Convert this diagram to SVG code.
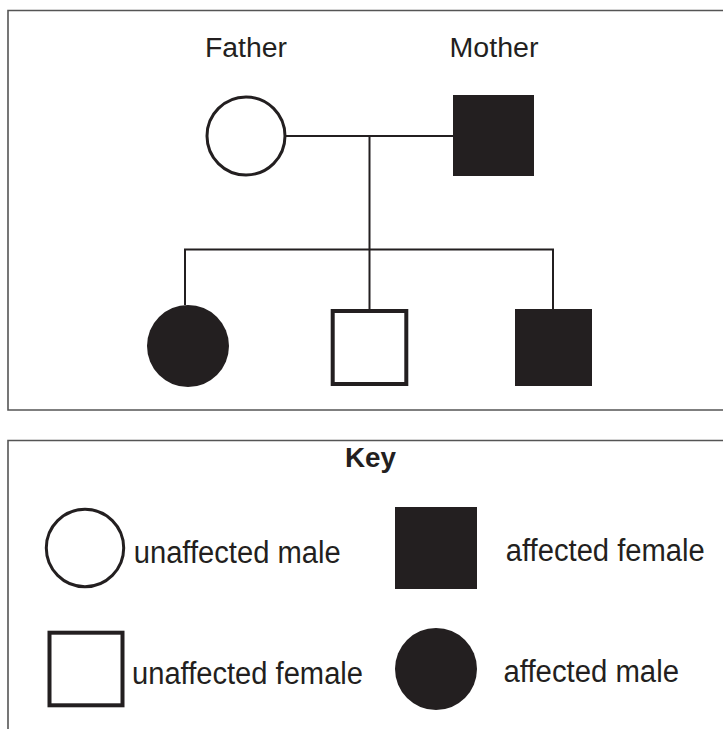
<svg xmlns="http://www.w3.org/2000/svg" width="723" height="729" viewBox="0 0 723 729">
<style>
.frame{fill:none;stroke:#555;stroke-width:1.6}
.link{fill:none;stroke:#231f20;stroke-width:2}
.open{fill:#fff;stroke:#231f20}
.fill{fill:#231f20;stroke:none}
.lbl{font-family:"Liberation Sans",Arial,sans-serif;font-size:27px;fill:#231f20}
.klbl{font-family:"Liberation Sans",Arial,sans-serif;font-size:31px;fill:#231f20}
.key{font-family:"Liberation Sans",Arial,sans-serif;font-size:28px;font-weight:bold;fill:#231f20}
</style>
<rect width="723" height="729" fill="#fff"/>
<path class="frame" d="M723,10.5 H8 V410 H723"/>
<path class="frame" d="M723,440.5 H8 V729"/>
<g id="connectors">
<line class="link" x1="286" y1="136" x2="453" y2="136"/>
<line class="link" x1="369.5" y1="136" x2="369.5" y2="309"/>
<polyline class="link" points="185,305 185,249.5 553,249.5 553,309"/>
</g>
<g id="father">
<text class="lbl" x="205" y="57" textLength="82" lengthAdjust="spacingAndGlyphs">Father</text>
<circle class="open" cx="246" cy="136" r="39" stroke-width="3"/>
</g>
<g id="mother">
<text class="lbl" x="449.5" y="57" textLength="89" lengthAdjust="spacingAndGlyphs">Mother</text>
<rect class="fill" x="453" y="95" width="81" height="81"/>
</g>
<g id="child1">
<circle class="fill" cx="188" cy="346" r="41"/>
</g>
<g id="child2">
<rect class="open" x="332.7" y="311" width="73.6" height="73" stroke-width="4"/>
</g>
<g id="child3">
<rect class="fill" x="515" y="309" width="77" height="77"/>
</g>
<g id="key">
<text class="key" x="345" y="466.7" textLength="51" lengthAdjust="spacingAndGlyphs">Key</text>
<g id="key-unaffected-male">
<circle class="open" cx="85" cy="548" r="38.7" stroke-width="3"/>
<text class="klbl" x="133.7" y="563" textLength="207" lengthAdjust="spacingAndGlyphs">unaffected male</text>
</g>
<g id="key-affected-female">
<rect class="fill" x="395" y="507" width="82" height="82"/>
<text class="klbl" x="505.8" y="560.5" textLength="199" lengthAdjust="spacingAndGlyphs">affected female</text>
</g>
<g id="key-unaffected-female">
<rect class="open" x="49.5" y="632.7" width="73" height="72.6" stroke-width="4"/>
<text class="klbl" x="132" y="683.5" textLength="231" lengthAdjust="spacingAndGlyphs">unaffected female</text>
</g>
<g id="key-affected-male">
<circle class="fill" cx="436" cy="669" r="41"/>
<text class="klbl" x="503.5" y="682" textLength="175.5" lengthAdjust="spacingAndGlyphs">affected male</text>
</g>
</g>
</svg>
